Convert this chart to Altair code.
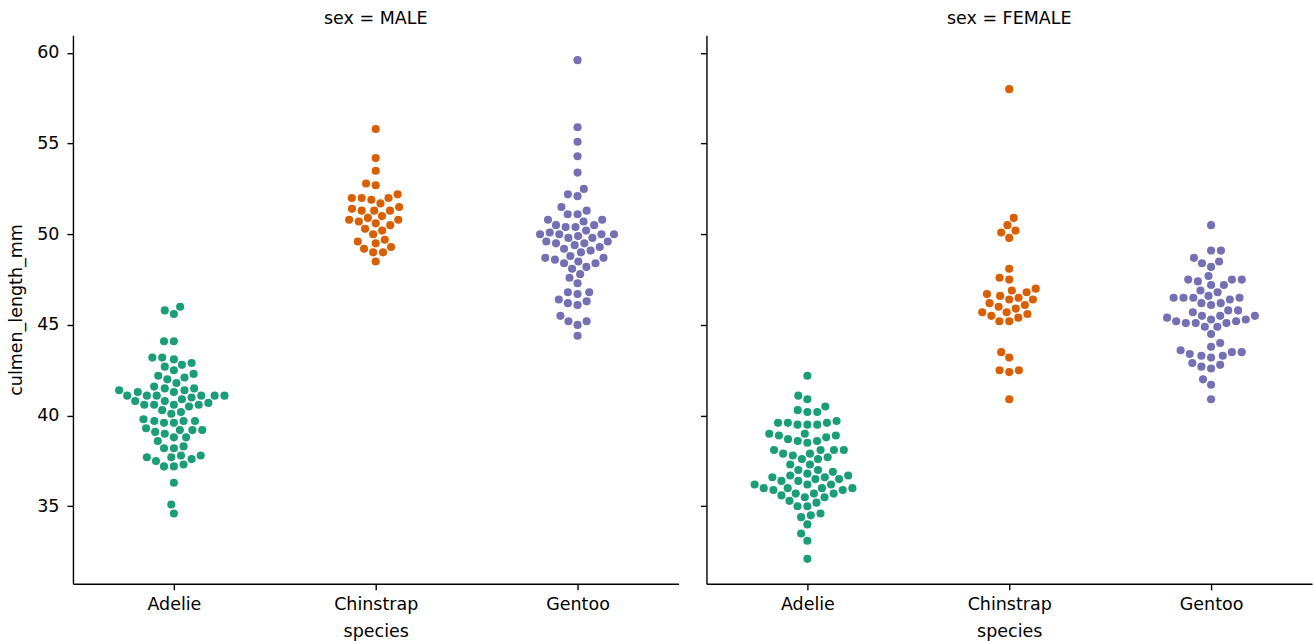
import altair as alt
import numpy as np
import pandas as pd

# Categories and facets
species_names = ["Adelie", "Chinstrap", "Gentoo"]
sex_panels = ["MALE", "FEMALE"]
species_colors = ["#1b9e77", "#d95f02", "#7570b3"]

# culmen_length_mm per species and sex (dataset row order)
adelie_male = [39.1, 39.3, 39.2, 38.6, 34.6, 42.5, 46.0, 37.7, 38.2, 38.8,
               40.6, 40.5, 37.2, 40.9, 39.2, 38.8, 39.8, 40.8, 44.1, 39.6,
               41.1, 42.3, 40.1, 42.0, 41.4, 40.6, 37.6, 41.3, 41.1, 41.6,
               41.1, 41.8, 39.7, 45.8, 42.8, 37.2, 42.1, 42.9, 35.1, 41.3,
               36.3, 38.3, 41.1, 39.6, 40.8, 40.3, 43.2, 41.0, 37.8, 39.7,
               38.2, 43.2, 45.6, 42.2, 42.7, 37.3, 41.1, 37.7, 41.4, 40.6,
               41.5, 44.1, 43.1, 37.5, 41.1, 40.2, 39.7, 40.6, 40.7, 39.0,
               39.2, 37.8, 41.5]
adelie_female = [39.5, 40.3, 36.7, 38.9, 41.1, 36.6, 38.7, 34.4, 37.8, 35.9,
                 35.3, 40.5, 37.9, 39.5, 39.5, 36.4, 42.2, 37.6, 36.5, 36.0,
                 37.0, 36.0, 39.6, 35.0, 34.5, 39.0, 36.5, 35.7, 37.6, 36.4,
                 35.5, 35.9, 33.5, 39.6, 35.5, 40.9, 36.2, 34.6, 36.7, 37.3,
                 36.9, 38.9, 35.7, 34.0, 36.2, 38.1, 33.1, 35.0, 37.7, 37.9,
                 38.6, 38.1, 38.1, 39.7, 39.6, 38.6, 35.7, 36.2, 40.2, 35.2,
                 38.8, 39.0, 38.5, 36.8, 38.1, 35.6, 37.0, 40.2, 32.1, 37.3,
                 36.6, 36.0, 36.0]
chinstrap_male = [50.0, 51.3, 52.7, 51.3, 51.3, 51.7, 52.0, 50.5, 50.3, 49.2,
                  48.5, 50.6, 52.0, 49.5, 52.8, 54.2, 51.0, 49.7, 52.0, 53.5,
                  49.0, 50.9, 50.8, 49.0, 51.5, 51.4, 50.7, 52.2, 49.3, 50.2,
                  51.9, 55.8, 49.6, 50.8]
chinstrap_female = [46.5, 45.4, 45.2, 46.1, 46.0, 46.6, 47.0, 45.9, 58.0, 46.4,
                    42.4, 43.2, 46.7, 50.5, 46.4, 40.9, 42.5, 47.5, 47.6, 46.9,
                    46.2, 45.5, 50.9, 50.1, 49.8, 48.1, 45.7, 42.5, 45.2, 45.6,
                    46.8, 45.7, 43.5, 50.2]
gentoo_male = [50.0, 50.0, 47.6, 46.7, 46.8, 49.0, 48.4, 49.3, 49.2, 48.7,
               50.2, 46.3, 46.1, 47.8, 50.0, 47.3, 59.6, 48.4, 44.4, 48.7,
               49.6, 49.6, 50.5, 50.5, 45.2, 48.5, 50.1, 45.0, 45.5, 50.4,
               46.2, 54.3, 49.8, 49.5, 50.7, 46.4, 48.2, 48.6, 51.1, 45.2,
               52.5, 50.0, 50.8, 51.3, 52.1, 52.2, 49.5, 50.8, 49.4, 51.1,
               55.9, 49.1, 46.8, 53.4, 48.1, 49.8, 51.5, 55.1, 48.8, 50.4,
               49.9]
gentoo_female = [46.1, 48.7, 46.5, 45.4, 43.3, 40.9, 45.5, 45.8, 42.0, 46.2,
                 45.1, 46.5, 42.9, 48.2, 42.8, 45.1, 49.1, 42.6, 44.0, 42.7,
                 45.3, 43.6, 45.5, 44.9, 46.6, 45.1, 46.5, 43.8, 43.2, 45.3,
                 45.7, 45.8, 43.5, 47.7, 46.5, 46.4, 47.5, 45.2, 49.1, 47.4,
                 44.9, 43.4, 47.5, 47.5, 45.5, 44.5, 46.9, 48.4, 48.5, 47.2,
                 41.7, 43.3, 50.5, 43.5, 46.2, 47.2, 46.8, 45.2]

groups = {
    ("MALE", "Adelie"): adelie_male,
    ("MALE", "Chinstrap"): chinstrap_male,
    ("MALE", "Gentoo"): gentoo_male,
    ("FEMALE", "Adelie"): adelie_female,
    ("FEMALE", "Chinstrap"): chinstrap_female,
    ("FEMALE", "Gentoo"): gentoo_female,
}

# Panel geometry used by the swarm layout
PLOT_W = 606
PLOT_H = 549
Y_DOMAIN = [30.725, 60.975]
POINT_R = 4.7  # marker radius in px
Y_PX = PLOT_H / (Y_DOMAIN[1] - Y_DOMAIN[0])
CAT_PX = PLOT_W / 3


def beeswarm(values):
    """Horizontal offsets (in category units) that keep markers from overlapping."""
    vals = np.asarray(values, dtype=float)
    order = np.argsort(vals)
    ys = vals[order] * Y_PX
    d = 2 * POINT_R
    placed_x, placed_y = [], []
    for y in ys:
        nx, ny = [], []
        for xj, yj in zip(reversed(placed_x), reversed(placed_y)):
            if y - yj < d:
                nx.append(xj)
                ny.append(yj)
            else:
                break
        nx, ny = nx[::-1], ny[::-1]
        cands = [0.0]
        left_first = True
        for xj, yj in zip(nx, ny):
            dx = np.sqrt(max(d ** 2 - (y - yj) ** 2, 0)) * 1.05
            pair = [xj - dx, xj + dx] if left_first else [xj + dx, xj - dx]
            cands.extend(pair)
            left_first = not left_first
        cands = np.asarray(cands)
        cands = cands[np.argsort(np.abs(cands))]
        chosen = cands[0]
        if nx:
            ax, ay = np.asarray(nx), np.asarray(ny)
            for c in cands:
                if np.all((ax - c) ** 2 + (ay - y) ** 2 >= d ** 2):
                    chosen = c
                    break
        placed_x.append(chosen)
        placed_y.append(y)
    offsets = np.empty(len(vals))
    offsets[order] = np.asarray(placed_x) / CAT_PX
    return offsets


rows = []
for (sex, sp), vals in groups.items():
    offs = beeswarm(vals)
    idx = species_names.index(sp)
    for v, o in zip(vals, offs):
        rows.append({"sex": sex, "species": sp, "culmen_length_mm": v, "pos": idx + o})
df = pd.DataFrame(rows)

FONT = "DejaVu Sans"
FS = 17.5


def panel(sex, first):
    y_axis = alt.Axis(
        values=[35, 40, 45, 50, 55, 60],
        title="culmen_length_mm" if first else None,
        labels=first,
        grid=False,
        tickSize=6,
        labelPadding=8,
        titlePadding=11,
    )
    return (
        alt.Chart(df[df["sex"] == sex])
        .mark_circle(size=66, opacity=1)
        .encode(
            x=alt.X(
                "pos:Q",
                scale=alt.Scale(domain=[-0.5, 2.5], nice=False, zero=False),
                axis=alt.Axis(
                    values=[0, 1, 2],
                    labelExpr="['Adelie','Chinstrap','Gentoo'][datum.value]",
                    title="species",
                    grid=False,
                    tickSize=6,
                    labelPadding=6,
                    titlePadding=9,
                ),
            ),
            y=alt.Y(
                "culmen_length_mm:Q",
                scale=alt.Scale(domain=Y_DOMAIN, nice=False, zero=False),
                axis=y_axis,
            ),
            color=alt.Color(
                "species:N",
                scale=alt.Scale(domain=species_names, range=species_colors),
                legend=None,
            ),
        )
        .properties(
            width=PLOT_W,
            height=PLOT_H,
            title=alt.TitleParams(
                f"sex = {sex}",
                font=FONT,
                fontSize=FS,
                fontWeight="normal",
                color="black",
                anchor="middle",
                offset=8,
            ),
        )
    )


chart = (
    alt.hconcat(panel("MALE", True), panel("FEMALE", False), spacing=21)
    .properties(padding={"left": 7, "top": 9, "right": 2, "bottom": 2}, background="white")
    .configure_view(stroke=None)
    .configure_axis(
        domainColor="black",
        tickColor="black",
        labelColor="black",
        titleColor="black",
        labelFont=FONT,
        titleFont=FONT,
        labelFontSize=FS,
        titleFontSize=FS,
        titleFontWeight="normal",
        domainWidth=1.4,
        tickWidth=1.4,
    )
)

chart.save("out.html", embed_options={"renderer": "svg", "actions": False})
